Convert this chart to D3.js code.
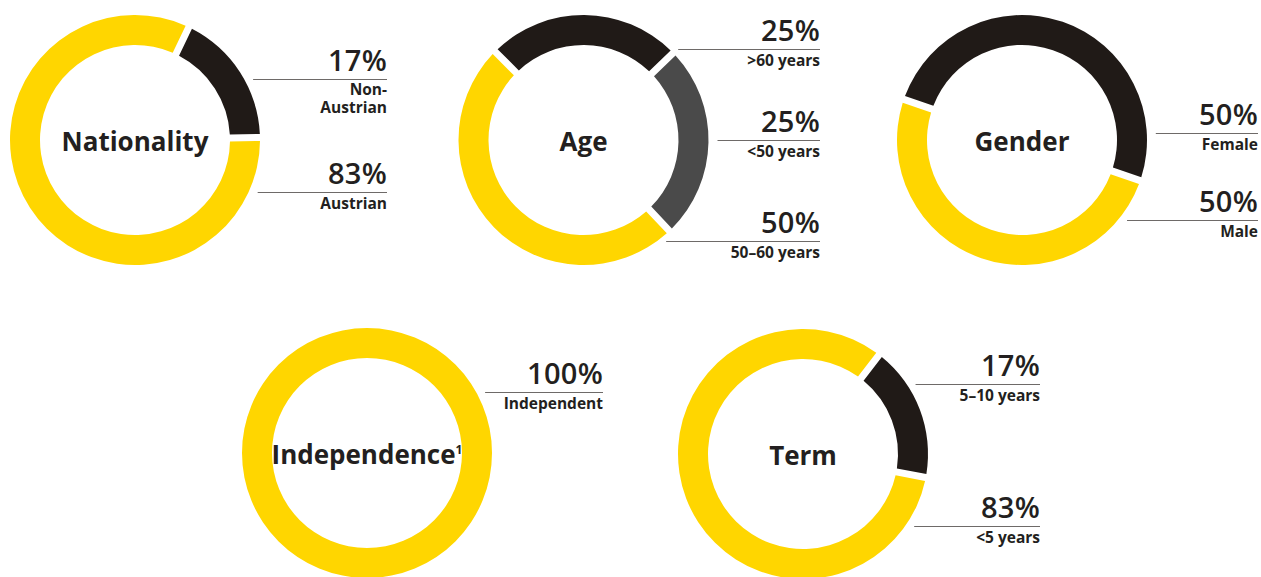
<!DOCTYPE html>
<html>
<head>
<meta charset="utf-8">
<script src="https://cdn.jsdelivr.net/npm/d3@7"></script>
<style>
  html, body { margin: 0; padding: 0; background: #ffffff; }
  svg { display: block; }
</style>
</head>
<body>
<svg id="chart" width="1261" height="577"></svg>
<script>
// ---------- DATA ----------
const titles = ["Nationality", "Age", "Gender", "Independence", "Term"];
const titleSuperscripts = ["", "", "", "1", ""];

const nationalityLabels = [["Non-", "Austrian"], ["Austrian"]];
const nationalityValues = [17, 83];

const ageLabels = [[">60 years"], ["<50 years"], ["50\u201360 years"]];
const ageValues = [25, 25, 50];

const genderLabels = [["Female"], ["Male"]];
const genderValues = [50, 50];

const independenceLabels = [["Independent"]];
const independenceValues = [100];

const termLabels = [["5\u201310 years"], ["<5 years"]];
const termValues = [17, 83];

// colour key per segment
const nationalityColors = ["dark", "yellow"];
const ageColors = ["dark", "gray", "yellow"];
const genderColors = ["dark", "yellow"];
const independenceColors = ["yellow"];
const termColors = ["dark", "yellow"];

// ---------- LAYOUT / STYLE ----------
const palette = { yellow: "#FFD600", dark: "#201A17", gray: "#4A4A4A" };
const textColor = "#231F20";
const outerR = 125, innerR = 95;
const layout = [
  { cx: 135,   cy: 140, start: 25.5, right: 252, lineDy: [-61, 52] },
  { cx: 583.5, cy: 140, start: -45,  right: 236.5, lineDy: [-91, 0, 101] },
  { cx: 1022,  cy: 140, start: -71,  right: 236, lineDy: [-7, 80] },
  { cx: 367,   cy: 453, start: 0,    right: 236, lineDy: [-61] },
  { cx: 803,   cy: 454, start: 37.5, right: 237, lineDy: [-70, 72] }
];

const series = [
  { labels: nationalityLabels, values: nationalityValues, colors: nationalityColors },
  { labels: ageLabels, values: ageValues, colors: ageColors },
  { labels: genderLabels, values: genderValues, colors: genderColors },
  { labels: independenceLabels, values: independenceValues, colors: independenceColors },
  { labels: termLabels, values: termValues, colors: termColors }
];

const svg = d3.select("#chart");
const rad = d => d * Math.PI / 180;

const arc = d3.arc().innerRadius(innerR).outerRadius(outerR).padRadius(outerR);

series.forEach((s, i) => {
  const L = layout[i];
  const rows = s.values.map((v, j) => ({ value: v, label: s.labels[j], color: s.colors[j], dy: L.lineDy[j] }));
  const pie = d3.pie().sort(null).value(d => d.value)
    .startAngle(rad(L.start)).endAngle(rad(L.start) + 2 * Math.PI)
    .padAngle(7 / outerR);

  const g = svg.append("g").attr("transform", `translate(${L.cx},${L.cy})`);

  g.selectAll("path.slice").data(pie(rows)).join("path")
    .attr("class", "slice")
    .attr("d", arc)
    .attr("fill", d => palette[d.data.color]);

  // centre title
  const t = g.append("text")
    .attr("x", 0).attr("y", 11)
    .attr("text-anchor", "middle")
    .attr("font-family", "'Open Sans', sans-serif")
    .attr("font-weight", 700)
    .attr("font-size", 26)
    .attr("fill", textColor)
    .text(titles[i]);
  if (titleSuperscripts[i]) {
    t.append("tspan").attr("font-size", 12).attr("dy", -10).text(titleSuperscripts[i]);
  }

  // labels
  rows.forEach(r => {
    const xRight = L.right;
    const xStart = Math.sqrt(Math.max(0, outerR * outerR - r.dy * r.dy)) + 9;
    g.append("line")
      .attr("x1", xStart).attr("x2", xRight)
      .attr("y1", r.dy + 0.5).attr("y2", r.dy + 0.5)
      .attr("stroke", "#6E6A68").attr("stroke-width", 1);
    g.append("text")
      .attr("x", xRight).attr("y", r.dy - 8)
      .attr("text-anchor", "end")
      .attr("font-family", "'Open Sans', sans-serif")
      .attr("font-weight", 600)
      .attr("font-size", 29)
      .attr("letter-spacing", 0.3)
      .attr("fill", textColor)
      .text(r.value + "%");
    const sub = g.append("text")
      .attr("text-anchor", "end")
      .attr("font-family", "'Open Sans', sans-serif")
      .attr("font-weight", 700)
      .attr("font-size", 15.5)
      .attr("fill", textColor);
    const multi = r.label.length > 1;
    r.label.forEach((ln, k) => {
      sub.append("tspan")
        .attr("x", xRight).attr("y", r.dy + (multi ? 16 : 17) + k * 18)
        .text(ln);
    });
  });
});
</script>
</body>
</html>
